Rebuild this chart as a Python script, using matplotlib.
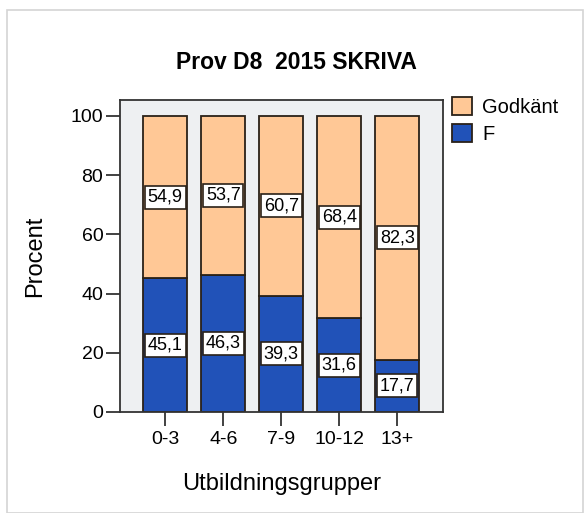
import matplotlib.pyplot as plt
from matplotlib.patches import Rectangle

plt.rcParams["font.family"] = ["Liberation Sans", "DejaVu Sans"]

groups = ["0-3", "4-6", "7-9", "10-12", "13+"]
f_pct = [45.1, 46.3, 39.3, 31.6, 17.7]
godkant_pct = [54.9, 53.7, 60.7, 68.4, 82.3]

blue = "#2152b8"
peach = "#ffc896"
edge = "#2a2118"

fig = plt.figure(figsize=(5.87, 5.13), dpi=100)
fig.patch.set_facecolor("white")

# light frame round the whole chart
fig.patches.append(Rectangle((7 / 587, 0), 576 / 587, 1 - 10 / 513, transform=fig.transFigure,
                             fill=False, edgecolor="#d4d4d4", linewidth=1.2))

ax = fig.add_axes([120 / 587, 101 / 513, 323 / 587, 312 / 513])
ax.set_facecolor("#eef0f2")

x = range(len(groups))
b1 = ax.bar(x, f_pct, width=0.75, color=blue, edgecolor=edge, linewidth=1.3, label="F", zorder=2)
b2 = ax.bar(x, godkant_pct, width=0.75, bottom=f_pct, color=peach, edgecolor=edge,
            linewidth=1.3, label="Godkänt", zorder=2)

box = dict(boxstyle="square,pad=0.16", facecolor="white", edgecolor=edge, linewidth=1.2)
for i in x:
    ax.text(i, f_pct[i] / 2, f"{f_pct[i]:.1f}".replace(".", ","), ha="center", va="center",
            fontsize=13, bbox=box, zorder=3)
    ax.text(i, f_pct[i] + godkant_pct[i] / 2, f"{godkant_pct[i]:.1f}".replace(".", ","),
            ha="center", va="center", fontsize=13, bbox=box, zorder=3)

ax.set_xlim(-0.78, 4.79)
ax.set_ylim(0, 105.4)
ax.set_yticks([0, 20, 40, 60, 80, 100])
ax.set_xticks(list(x))
ax.set_xticklabels(groups)
ax.tick_params(axis="both", labelsize=14, length=10, width=1.3, color="#333333", pad=2)
ax.tick_params(axis="x", pad=4)
for s in ax.spines.values():
    s.set_linewidth(1.3)
    s.set_color("#333333")

ax.set_ylabel("Procent", fontsize=17, labelpad=18)
ax.set_xlabel("Utbildningsgrupper", fontsize=17, labelpad=18)
fig.text(0.505, 1 - 63 / 513, "Prov D8  2015 SKRIVA", ha="center", va="center",
         fontsize=16.5, fontweight="bold")

fig.legend(handles=[b2, b1], labels=["Godkänt", "F"], loc="upper left",
           bbox_to_anchor=(452 / 587, 1 - 97 / 513), frameon=False, fontsize=14.5,
           handlelength=1.0, handleheight=1.0, labelspacing=0.35, handletextpad=0.5,
           borderpad=0, borderaxespad=0)

fig.savefig("out.png", dpi=100)
